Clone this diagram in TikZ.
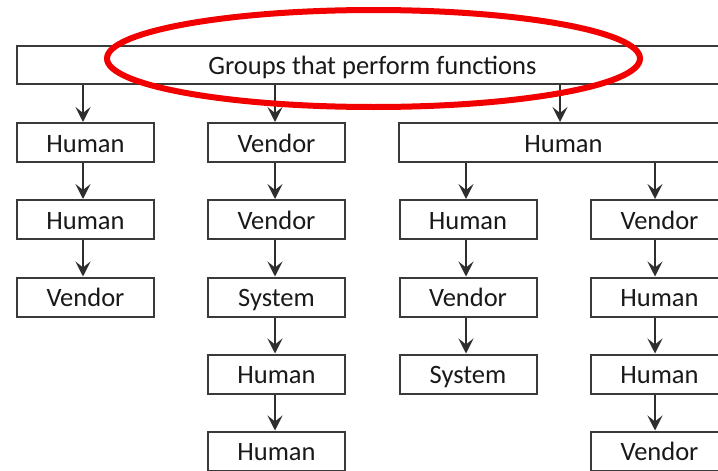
\documentclass[tikz,border=0pt]{standalone}
\usepackage{fontspec}
\setmainfont{Carlito}
\usetikzlibrary{arrows.meta}
\definecolor{boxline}{HTML}{3A3A3A}
\definecolor{arrowline}{HTML}{2E2E2E}
\definecolor{ringred}{HTML}{F20000}

\begin{document}
\begin{tikzpicture}[x=1pt,y=-1pt,
  box/.style={draw=boxline, line width=2pt, minimum width=137pt, minimum height=39pt,
    inner sep=0pt, text height=21pt, text depth=2pt,
    font=\fontsize{26.5}{31}\selectfont, text=black!90},
  link/.style={draw=arrowline, line width=2pt,
    -{Stealth[length=15pt,width=15pt,inset=6pt]}},
]
\useasboundingbox (0,0) rectangle (718,471);
\clip (0,0) rectangle (718,471);

% header box spanning all columns
\node[box, minimum width=711pt, minimum height=38pt] (top) at (372.5,65) {Groups that perform functions};

% column 1
\node[box] (a1) at (85.5,142.5) {Human};
\node[box] (a2) at (85.5,219.5) {Human};
\node[box] (a3) at (85.5,297) {Vendor};

% column 2
\node[box] (b1) at (276.5,142.5) {Vendor};
\node[box] (b2) at (276.5,219.5) {Vendor};
\node[box] (b3) at (276.5,297) {System};
\node[box] (b4) at (276.5,374) {Human};
\node[box] (b5) at (276.5,451) {Human};

% wide branch box and its two sub-columns
\node[box, minimum width=329pt] (w) at (563.5,142.5) {Human};

\node[box] (c1) at (468,219.5) {Human};
\node[box] (c2) at (468,297) {Vendor};
\node[box] (c3) at (468,374) {System};

\node[box] (d1) at (659.5,219.5) {Vendor};
\node[box] (d2) at (659.5,297) {Human};
\node[box] (d3) at (659.5,374) {Human};
\node[box] (d4) at (659.5,451) {Vendor};

% arrow lanes
\coordinate (xa) at (83,0);
\coordinate (xb) at (275,0);
\coordinate (xw) at (560,0);
\coordinate (xc) at (466,0);
\coordinate (xd) at (655,0);

\draw[link] (top.south -| xa) -- (a1.north -| xa);
\draw[link] (a1.south -| xa) -- (a2.north -| xa);
\draw[link] (a2.south -| xa) -- (a3.north -| xa);

\draw[link] (top.south -| xb) -- (b1.north -| xb);
\draw[link] (b1.south -| xb) -- (b2.north -| xb);
\draw[link] (b2.south -| xb) -- (b3.north -| xb);
\draw[link] (b3.south -| xb) -- (b4.north -| xb);
\draw[link] (b4.south -| xb) -- (b5.north -| xb);

\draw[link] (top.south -| xw) -- (w.north -| xw);

\draw[link] (w.south -| xc) -- (c1.north -| xc);
\draw[link] (c1.south -| xc) -- (c2.north -| xc);
\draw[link] (c2.south -| xc) -- (c3.north -| xc);

\draw[link] (w.south -| xd) -- (d1.north -| xd);
\draw[link] (d1.south -| xd) -- (d2.north -| xd);
\draw[link] (d2.south -| xd) -- (d3.north -| xd);
\draw[link] (d3.south -| xd) -- (d4.north -| xd);

% red highlight ring around the header text
\draw[ringred, line width=6pt] (373.5,58.5) ellipse [x radius=266.5pt, y radius=48.5pt];
\end{tikzpicture}
\end{document}
